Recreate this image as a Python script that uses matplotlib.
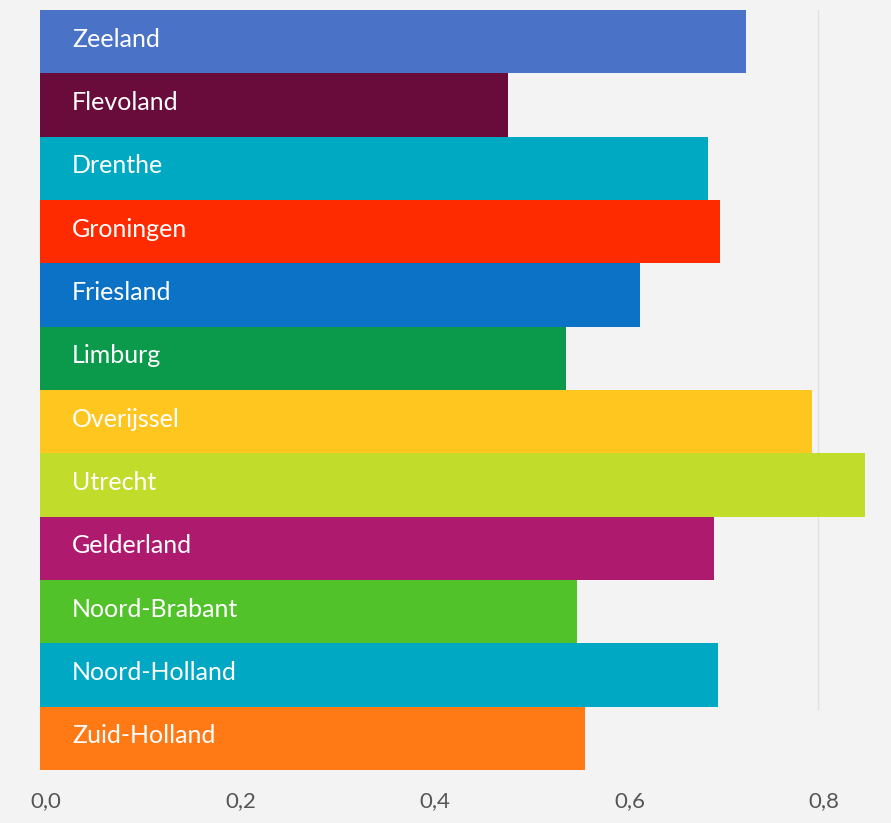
import matplotlib
matplotlib.use('Agg')
import matplotlib.pyplot as plt
import matplotlib.transforms as mtransforms

provinces = ['Zeeland', 'Flevoland', 'Drenthe', 'Groningen', 'Friesland', 'Limburg',
             'Overijssel', 'Utrecht', 'Gelderland', 'Noord-Brabant', 'Noord-Holland',
             'Zuid-Holland']
values = [0.726, 0.481, 0.687, 0.699, 0.617, 0.541,
          0.794, 0.848, 0.693, 0.552, 0.697, 0.560]
colors = ['#4a72c6', '#690c3b', '#00a9c2', '#ff2b00', '#0c72c6', '#0b9a4b',
          '#ffc61f', '#c1dc2a', '#ae1a6e', '#52c22b', '#00a8c4', '#ff7a14']
ticks = [0.0, 0.2, 0.4, 0.6, 0.8]
tick_labels = ['0,0', '0,2', '0,4', '0,6', '0,8']

plt.rcParams['font.family'] = ['Lato', 'DejaVu Sans']

fig = plt.figure(figsize=(8.91, 8.23), dpi=100)
fig.patch.set_facecolor('#f3f3f3')
ax = fig.add_axes([40 / 891, 53 / 823, 851 / 891, 760 / 823])
ax.set_facecolor('#f3f3f3')

ypos = list(range(len(provinces)))
ax.barh(ypos, values, height=1.0, color=colors, zorder=2)
for y, name in zip(ypos, provinces):
    ax.text(0.033, y - 0.04, name, color='white', fontsize=18, va='center', ha='left', zorder=3)

# faint gridline at 0.8, stops above the last bar
ax.axvline(0.8, ymin=0.08, color='#e0e0e0', linewidth=1, zorder=1)

ax.set_xlim(0, 0.875)
ax.set_ylim(len(provinces) - 0.5, -0.5)
ax.set_yticks([])
ax.set_xticks(ticks)
ax.set_xticklabels(tick_labels, fontsize=16, color='#555555')
ax.tick_params(axis='x', length=0, pad=15)
offset = mtransforms.ScaledTranslation(6 / 100, 0, fig.dpi_scale_trans)
for lbl in ax.get_xticklabels():
    lbl.set_transform(lbl.get_transform() + offset)
for s in ax.spines.values():
    s.set_visible(False)

fig.savefig('out.png', dpi=100, facecolor=fig.get_facecolor())
